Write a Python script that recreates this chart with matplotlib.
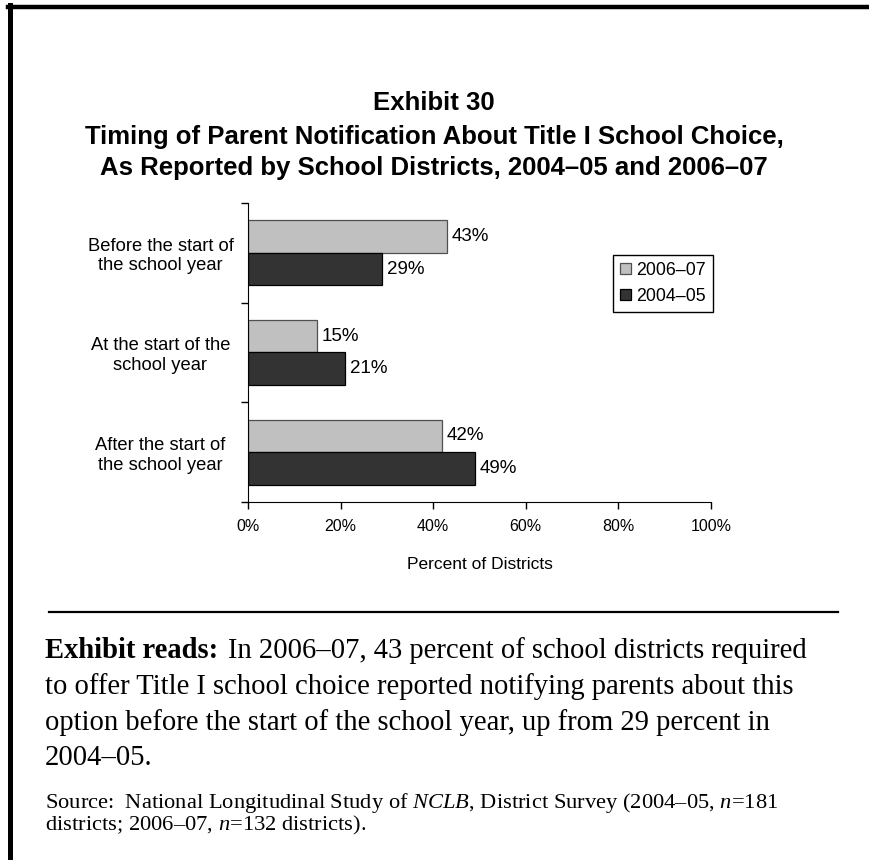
import numpy as np
import matplotlib.pyplot as plt
from matplotlib.lines import Line2D

plt.rcParams['font.family'] = ['Liberation Sans', 'DejaVu Sans']
plt.rcParams['mathtext.fontset'] = 'custom'
plt.rcParams['mathtext.rm'] = 'Liberation Serif'
plt.rcParams['mathtext.it'] = 'Liberation Serif:italic'

categorias = ['Before the start of\nthe school year',
              'At the start of the\nschool year',
              'After the start of\nthe school year']
años = ['2006–07', '2004–05']
valores_0607 = [43, 15, 42]
valores_0405 = [29, 21, 49]
ticks_x = [0, 20, 40, 60, 80, 100]

titulo = ['Exhibit 30',
          'Timing of Parent Notification About Title I School Choice,',
          'As Reported by School Districts, 2004–05 and 2006–07']
lectura_negrita = 'Exhibit reads:'
lectura = ['In 2006–07, 43 percent of school districts required',
           'to offer Title I school choice reported notifying parents about this',
           'option before the start of the school year, up from 29 percent in',
           '2004–05.']
fuente = [r'Source:  National Longitudinal Study of $\it{NCLB}$, District Survey (2004–05, $\it{n}$=181',
          r'districts; 2006–07, $\it{n}$=132 districts).']

W, H = 870, 860
fig = plt.figure(figsize=(W / 100, H / 100), dpi=100)

def px(x, y):
    return x / W, 1 - y / H

# marco del recuadro (arriba e izquierda)
fig.add_artist(Line2D([8 / W, 1], [1 - 7 / H] * 2, color='black', lw=3.2))
fig.add_artist(Line2D([10.5 / W] * 2, [0, 1 - 5 / H], color='black', lw=3.6))

# titulo
for texto, y in zip(titulo, [103, 137, 168]):
    fig.text(*px(434, y), texto, ha='center', va='center',
             fontsize=18.5, fontweight='bold')

ax = fig.add_axes([248 / W, 1 - 502 / H, (711 - 248) / W, (502 - 203) / H])
y = np.arange(len(categorias))
alto = 0.325
b1 = ax.barh(y - alto / 2, valores_0607, height=alto, color='#c0c0c0',
             edgecolor='#505050', lw=0.9, label=años[0])
b2 = ax.barh(y + alto / 2, valores_0405, height=alto, color='#333333',
             edgecolor='black', lw=0.9, label=años[1])
for barras in (b1, b2):
    for b in barras:
        ax.text(b.get_width() + 1, b.get_y() + b.get_height() / 2,
                f'{b.get_width():.0f}%', va='center', ha='left', fontsize=13.5)

ax.set_xlim(0, 100)
ax.set_ylim(2.5, -0.5)
ax.set_xticks(ticks_x)
ax.set_xticklabels([f'{t}%' for t in ticks_x], fontsize=11.5)
ax.set_yticks([-0.5, 0.5, 1.5, 2.5])
ax.set_yticklabels([])
ax.set_yticks(y, minor=True)
ax.set_yticklabels(categorias, minor=True, fontsize=13.2, ha='center')
ax.tick_params(axis='y', which='minor', length=0, pad=63)
ax.tick_params(axis='both', which='major', length=5, direction='out', width=1)
ax.tick_params(axis='x', pad=7)
for s in ['top', 'right']:
    ax.spines[s].set_visible(False)
ax.set_xlabel('Percent of Districts', fontsize=12.5, labelpad=17)

ax.legend(loc='upper left', bbox_to_anchor=(613 / W, 1 - 255 / H),
          bbox_transform=fig.transFigure, fontsize=12.8, frameon=True,
          fancybox=False, edgecolor='black', framealpha=1,
          handlelength=0.6, handleheight=0.6, handletextpad=0.3,
          borderpad=0.4, labelspacing=0.5, borderaxespad=0)

# linea separadora
fig.add_artist(Line2D([49 / W, 838 / W], [1 - 612 / H] * 2, color='black', lw=1.6))

# texto explicativo
renderer = fig.canvas.get_renderer()
t = fig.text(*px(45, 651), lectura_negrita, ha='left', va='center',
             fontsize=20.6, fontweight='bold', family='Liberation Serif')
x_fin = t.get_window_extent(renderer).x1
for i, (texto, yy) in enumerate(zip(lectura, [651, 687, 723, 758])):
    x0 = (x_fin + 10) / W if i == 0 else 45 / W
    fig.text(x0, 1 - yy / H, texto, ha='left', va='center', fontsize=20.6,
             family='Liberation Serif')
for texto, yy in zip(fuente, [803, 825]):
    fig.text(*px(45, yy), texto, ha='left', va='center', fontsize=16.2,
             family='Liberation Serif')

fig.savefig('out.png', dpi=100)
